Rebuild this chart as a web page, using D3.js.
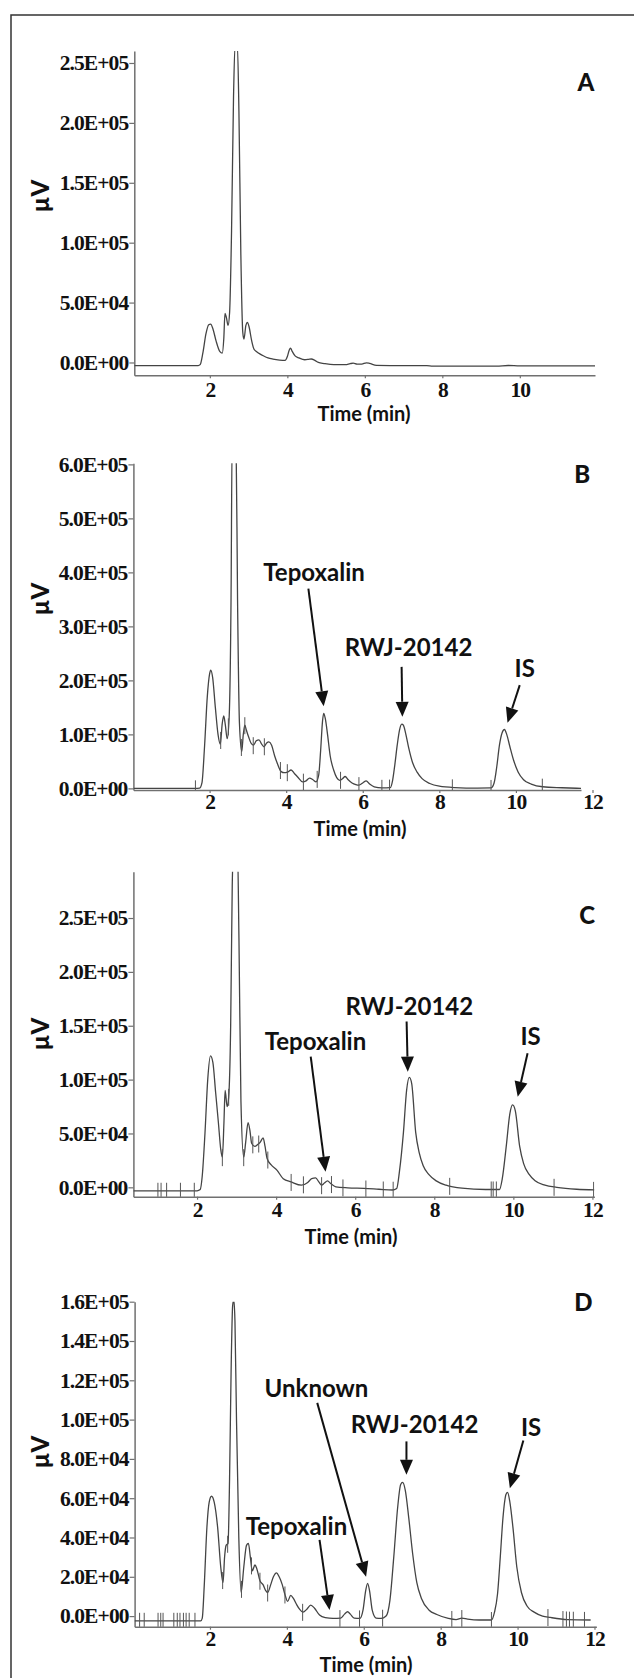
<!DOCTYPE html>
<html><head><meta charset="utf-8">
<script src="https://cdn.jsdelivr.net/npm/d3@7"></script>
<style>body{margin:0;background:#fff}svg{display:block}</style>
</head><body>
<script>
// ---------------- DATA ----------------
const panelLetters = ["A", "B", "C", "D"];
const xTicksA = [2, 4, 6, 8, 10];
const xTicksB = [2, 4, 6, 8, 10, 12];
const xTicksC = [2, 4, 6, 8, 10, 12];
const xTicksD = [2, 4, 6, 8, 10, 12];
const yTicksA = [0, 50000, 100000, 150000, 200000, 250000];
const yTicksB = [0, 100000, 200000, 300000, 400000, 500000, 600000];
const yTicksC = [0, 50000, 100000, 150000, 200000, 250000];
const yTicksD = [0, 20000, 40000, 60000, 80000, 100000, 120000, 140000, 160000];

// time (min), signal (µV)
const traceA = [[0.05,-2600],[1.70,-2600],[1.75,-1800],[1.82,8000],[1.90,24000],[1.97,31500],[2.02,32000],[2.08,28000],[2.16,18000],[2.26,9000],[2.32,7800],[2.36,20000],[2.39,41000],[2.43,37000],[2.47,31000],[2.51,42000],[2.56,110000],[2.61,220000],[2.65,265000],[2.71,265000],[2.75,210000],[2.80,90000],[2.85,25000],[2.88,19500],[2.93,31000],[2.97,33500],[3.01,30000],[3.08,18000],[3.14,11000],[3.20,9200],[3.30,7000],[3.38,5600],[3.50,3800],[3.63,2800],[3.80,2000],[3.94,1700],[4.00,5000],[4.05,10500],[4.08,12000],[4.13,9000],[4.20,5500],[4.30,3800],[4.45,2300],[4.55,2600],[4.62,2900],[4.70,2000],[4.80,0],[4.95,-900],[5.20,-1800],[5.50,-1800],[5.62,-1000],[5.70,-600],[5.80,-1400],[5.92,-1300],[6.04,-300],[6.12,-700],[6.30,-2400],[7.00,-2700],[7.60,-2700],[7.75,-3100],[9.40,-3000],[9.70,-2500],[10.00,-2900],[11.94,-2900]];

const traceB = [[0.01,0],[1.62,0],[1.74,500],[1.80,10000],[1.87,80000],[1.94,170000],[2.00,212000],[2.03,219000],[2.08,205000],[2.15,150000],[2.22,100000],[2.28,82000],[2.33,120000],[2.37,134000],[2.41,118000],[2.46,92000],[2.51,130000],[2.56,350000],[2.59,650000],[2.69,650000],[2.73,350000],[2.78,120000],[2.84,68000],[2.88,100000],[2.92,117000],[2.96,108000],[3.02,95000],[3.08,84000],[3.14,80000],[3.22,88000],[3.29,90000],[3.36,82000],[3.42,77000],[3.49,84000],[3.55,86000],[3.62,80000],[3.70,60000],[3.77,46000],[3.87,31000],[3.95,29000],[4.03,30000],[4.13,34000],[4.22,27000],[4.30,21000],[4.43,12000],[4.52,14000],[4.61,19000],[4.70,16000],[4.78,12000],[4.85,25000],[4.90,70000],[4.95,125000],[4.98,139000],[5.02,130000],[5.08,100000],[5.15,60000],[5.24,34000],[5.32,20000],[5.40,15000],[5.47,18000],[5.54,22000],[5.62,16000],[5.72,10000],[5.82,7000],[5.90,6000],[6.00,10000],[6.09,14000],[6.18,8000],[6.30,3000],[6.50,1000],[6.72,1500],[6.78,15000],[6.84,45000],[6.90,80000],[6.96,108000],[7.02,119000],[7.06,117000],[7.12,102000],[7.20,75000],[7.30,48000],[7.42,30000],[7.55,18000],[7.75,9000],[8.00,4000],[8.40,1500],[9.00,500],[9.35,800],[9.43,10000],[9.50,40000],[9.57,80000],[9.64,103000],[9.70,109000],[9.76,100000],[9.84,78000],[9.94,52000],[10.06,30000],[10.20,16000],[10.40,8000],[10.70,3000],[11.20,1200],[11.70,0]];

const traceC = [[0.39,-3200],[2.00,-3200],[2.08,-2000],[2.13,10000],[2.20,50000],[2.27,100000],[2.34,122000],[2.40,116000],[2.47,88000],[2.54,60000],[2.60,35000],[2.64,28000],[2.68,60000],[2.71,90000],[2.76,75000],[2.80,84000],[2.85,150000],[2.89,280000],[2.93,320000],[3.02,320000],[3.06,230000],[3.11,80000],[3.18,28000],[3.23,42000],[3.29,60000],[3.34,52000],[3.38,41000],[3.46,38000],[3.54,40000],[3.60,42000],[3.67,46000],[3.72,38000],[3.77,27000],[3.87,21000],[4.02,16000],[4.18,8000],[4.38,5000],[4.64,2000],[4.80,4500],[4.90,8000],[5.00,8700],[5.08,5000],[5.15,2000],[5.22,4000],[5.30,6000],[5.38,3500],[5.51,500],[5.81,-500],[6.22,-1000],[6.60,-1800],[6.94,-2500],[7.05,-1000],[7.12,15000],[7.22,51000],[7.30,90000],[7.37,102000],[7.43,96000],[7.53,51000],[7.62,32000],[7.72,20000],[7.86,12000],[8.05,6000],[8.30,2000],[8.70,-800],[9.30,-2000],[9.65,-2000],[9.72,8000],[9.82,38000],[9.91,68000],[9.98,76500],[10.05,71000],[10.16,38000],[10.26,22000],[10.40,12000],[10.55,6000],[10.80,2000],[11.10,0],[11.60,-1800],[12.05,-2400]];

const traceD = [[0.04,-2400],[1.76,-2400],[1.80,-1000],[1.85,15000],[1.92,45000],[1.98,58000],[2.04,61000],[2.11,58000],[2.20,45000],[2.28,25000],[2.34,17000],[2.38,30000],[2.42,36000],[2.47,37000],[2.51,70000],[2.55,125000],[2.59,158000],[2.62,161000],[2.65,150000],[2.69,100000],[2.75,40000],[2.81,12000],[2.88,25000],[2.95,36000],[3.00,37000],[3.05,30000],[3.10,23000],[3.17,26000],[3.22,24000],[3.30,18000],[3.38,16000],[3.45,13000],[3.50,12000],[3.58,16000],[3.65,20000],[3.73,22000],[3.80,20000],[3.88,16000],[3.95,11000],[4.02,7500],[4.10,10500],[4.17,9000],[4.25,6000],[4.33,3500],[4.42,2000],[4.52,3500],[4.62,5600],[4.72,4000],[4.85,500],[5.00,-800],[5.20,-1200],[5.40,-1000],[5.50,1000],[5.58,2200],[5.65,1000],[5.75,-1000],[5.90,-1200],[5.98,3000],[6.05,13000],[6.10,16700],[6.15,13000],[6.22,3000],[6.32,-1000],[6.45,-1200],[6.58,0],[6.68,8000],[6.78,30000],[6.88,55000],[6.96,67000],[7.01,68000],[7.08,64000],[7.17,50000],[7.27,32000],[7.38,17000],[7.50,9000],[7.70,3000],[7.90,800],[8.20,-1200],[8.40,-1800],[8.55,-1000],[8.70,-1500],[9.00,-2000],[9.32,-2000],[9.40,2000],[9.48,11500],[9.55,30000],[9.62,50000],[9.70,62000],[9.74,63000],[9.80,58000],[9.88,45000],[9.98,25000],[10.10,12000],[10.25,5000],[10.43,2000],[10.65,0],[10.85,-700],[11.30,-1800],[11.90,-2000]];

// integration event marks (time, min)
const marksA = [];
const marksB = [1.63,2.29,2.49,2.83,2.92,3.14,3.43,3.85,4.03,4.45,4.81,5.42,5.90,6.50,6.70,8.34,9.35,10.69];
const marksC = [1.01,1.09,1.23,1.58,1.93,2.64,2.80,3.18,3.41,3.56,3.79,4.38,4.69,5.15,5.40,5.69,6.27,6.71,6.96,8.39,9.44,9.49,9.57,11.03,12.03];
const marksD = [0.17,0.29,0.65,0.72,0.78,1.06,1.15,1.22,1.31,1.38,1.46,1.61,2.33,2.46,2.82,3.08,3.30,3.50,3.95,4.41,5.38,5.89,6.49,8.29,8.55,9.32,10.79,11.18,11.27,11.35,11.45,11.74];

// peak labels: text, text pos (t, v), arrow tail (t, v), arrow tip (t, v)
const labelsA = [];
const labelsB = [
  ["Tepoxalin", 4.73, 400000, 4.58, 370000, 4.98, 152000],
  ["RWJ-20142", 7.195, 262000, 7.015, 225000, 7.035, 132600],
  ["IS", 10.23, 222000, 10.10, 191300, 9.78, 121500]];
const labelsC = [
  ["Tepoxalin", 4.996, 135300, 4.875, 121400, 5.25, 14500],
  ["RWJ-20142", 7.37, 167800, 7.30, 153900, 7.33, 107400],
  ["IS", 10.435, 140000, 10.36, 124500, 10.11, 84200]];
const labelsD = [
  ["Unknown", 4.77, 116100, 4.79, 108500, 6.06, 20000],
  ["RWJ-20142", 7.32, 97400, 7.11, 88900, 7.11, 71900],
  ["IS", 10.35, 95800, 10.15, 89400, 9.80, 65100],
  ["Tepoxalin", 4.25, 45500, 4.85, 38800, 5.11, 3100]];

// ---------------- LAYOUT ----------------
const W = 634, H = 1678;
const panels = [
  {letter: panelLetters[0], trace: traceA, marks: marksA, labels: labelsA, xt: xTicksA, yt: yTicksA,
   xd: [0.05, 11.94], xr: [134.3, 595], yd: [-10700, 260000], yr: [375.3, 51],
   letterPos: [586, 82], uvY: 196, timePos: [364, 414], tpad: 3},
  {letter: panelLetters[1], trace: traceB, marks: marksB, labels: labelsB, xt: xTicksB, yt: yTicksB,
   xd: [0.01, 11.7], xr: [133.4, 581], yd: [-3000, 602000], yr: [790, 463.3],
   letterPos: [582.3, 474], uvY: 599, timePos: [360, 828.5], tpad: 1},
  {letter: panelLetters[2], trace: traceC, marks: marksC, labels: labelsC, xt: xTicksC, yt: yTicksC,
   xd: [0.39, 12.05], xr: [133.4, 594.4], yd: [-8700, 293000], yr: [1196.7, 871.7],
   letterPos: [587.1, 915], uvY: 1034, timePos: [351, 1237], tpad: 2},
  {letter: panelLetters[3], trace: traceD, marks: marksD, labels: labelsD, xt: xTicksD, yt: yTicksD,
   xd: [0.04, 12.05], xr: [134.6, 596.4], yd: [-5400, 160000], yr: [1626.7, 1301.7],
   letterPos: [583.5, 1302.5], uvY: 1452, timePos: [366, 1665], tpad: 1}
];

const SANS = "Lato, 'Open Sans', 'DejaVu Sans', sans-serif";
const SERIF = "'Liberation Serif', 'Times New Roman', serif";

function sci(v) {
  if (v === 0) return "0.0E+00";
  const e = Math.floor(Math.log10(Math.abs(v)) + 1e-9);
  const m = v / Math.pow(10, e);
  return m.toFixed(1) + "E+" + String(e).padStart(2, "0");
}
function valAt(tr, t) {
  const i = d3.bisector(d => d[0]).left(tr, t);
  if (i <= 0) return tr[0][1];
  if (i >= tr.length) return tr[tr.length - 1][1];
  const a = tr[i - 1], b = tr[i];
  return a[1] + (b[1] - a[1]) * (t - a[0]) / (b[0] - a[0]);
}

const svg = d3.select("body").append("svg").attr("width", W).attr("height", H);
svg.append("rect").attr("width", W).attr("height", H).attr("fill", "#fff");

// frame
svg.append("path").attr("d", `M11,${H} L11,15 L${W},15`)
  .attr("fill", "none").attr("stroke", "#333").attr("stroke-width", 1.5);

panels.forEach((p, pi) => {
  const x = d3.scaleLinear().domain(p.xd).range(p.xr);
  const y = d3.scaleLinear().domain(p.yd).range(p.yr);
  const g = svg.append("g");

  const clipId = "clip" + pi;
  g.append("clipPath").attr("id", clipId).append("rect")
    .attr("x", p.xr[0]).attr("y", p.yr[1]).attr("width", p.xr[1] - p.xr[0]).attr("height", p.yr[0] - p.yr[1]);

  // y axis
  const ya = g.append("g").attr("transform", `translate(${p.xr[0]},0)`)
    .call(d3.axisLeft(y).tickValues(p.yt).tickFormat(sci).tickSize(5).tickSizeOuter(0).tickPadding(1));
  // x axis
  const xa = g.append("g").attr("transform", `translate(0,${p.yr[0]})`)
    .call(d3.axisBottom(x).tickValues(p.xt).tickFormat(d3.format("d")).tickSize(3).tickSizeOuter(0).tickPadding(p.tpad));
  [ya, xa].forEach(a => {
    a.select(".domain").attr("stroke", "#707070").attr("stroke-width", 1.5);
    a.selectAll(".tick line").attr("stroke", "#707070").attr("stroke-width", 1.2);
    a.selectAll(".tick text").attr("fill", "#111").style("font-family", SERIF)
      .style("font-weight", "bold").style("font-size", "21.5px").style("letter-spacing", "-0.9px");
  });

  // trace
  const line = d3.line().x(d => x(d[0])).y(d => y(d[1])).curve(d3.curveMonotoneX);
  const plot = g.append("g").attr("clip-path", `url(#${clipId})`);
  plot.append("path").datum(p.trace).attr("d", line)
    .attr("fill", "none").attr("stroke", "#444").attr("stroke-width", 1.3);

  // event marks
  plot.selectAll("line.mark").data(p.marks).join("line").attr("class", "mark")
    .attr("x1", d => x(d)).attr("x2", d => x(d))
    .attr("y1", d => y(valAt(p.trace, d)) - 8).attr("y2", d => y(valAt(p.trace, d)) + 9)
    .attr("stroke", "#555").attr("stroke-width", 1);

  // axis titles
  g.append("text").attr("transform", `translate(41,${p.uvY}) rotate(-90)`)
    .attr("text-anchor", "middle").attr("dy", "0.35em")
    .style("font-family", SANS).style("font-weight", "900").style("font-size", "24px")
    .attr("fill", "#111").text("µV");
  g.append("text").attr("x", p.timePos[0]).attr("y", p.timePos[1]).attr("dy", "0.35em")
    .attr("text-anchor", "middle").style("font-family", SANS).style("font-weight", "bold")
    .style("font-size", "20px").attr("fill", "#111").text("Time (min)");
  g.append("text").attr("x", p.letterPos[0]).attr("y", p.letterPos[1]).attr("dy", "0.36em")
    .attr("text-anchor", "middle").style("font-family", SANS).style("font-weight", "900")
    .style("font-size", "24px").attr("fill", "#111").text(p.letter);

  // annotations
  p.labels.forEach(l => {
    const [txt, tt, tv, at, av, pt, pv] = l;
    g.append("text").attr("x", x(tt)).attr("y", y(tv)).attr("dy", "0.36em")
      .attr("text-anchor", "middle").style("font-family", SANS).style("font-weight", "bold")
      .style("font-size", "24px").attr("fill", "#111").text(txt);
    const x0 = x(at), y0 = y(av), x1 = x(pt), y1 = y(pv);
    const len = Math.hypot(x1 - x0, y1 - y0), ux = (x1 - x0) / len, uy = (y1 - y0) / len;
    const hl = 15, hw = 6.5;
    const bx = x1 - ux * hl, by = y1 - uy * hl;
    g.append("line").attr("x1", x0).attr("y1", y0).attr("x2", bx).attr("y2", by)
      .attr("stroke", "#111").attr("stroke-width", 2);
    g.append("path")
      .attr("d", `M${x1},${y1} L${bx - uy * hw},${by + ux * hw} L${bx + uy * hw},${by - ux * hw} Z`)
      .attr("fill", "#111");
  });
});
</script>
</body></html>
